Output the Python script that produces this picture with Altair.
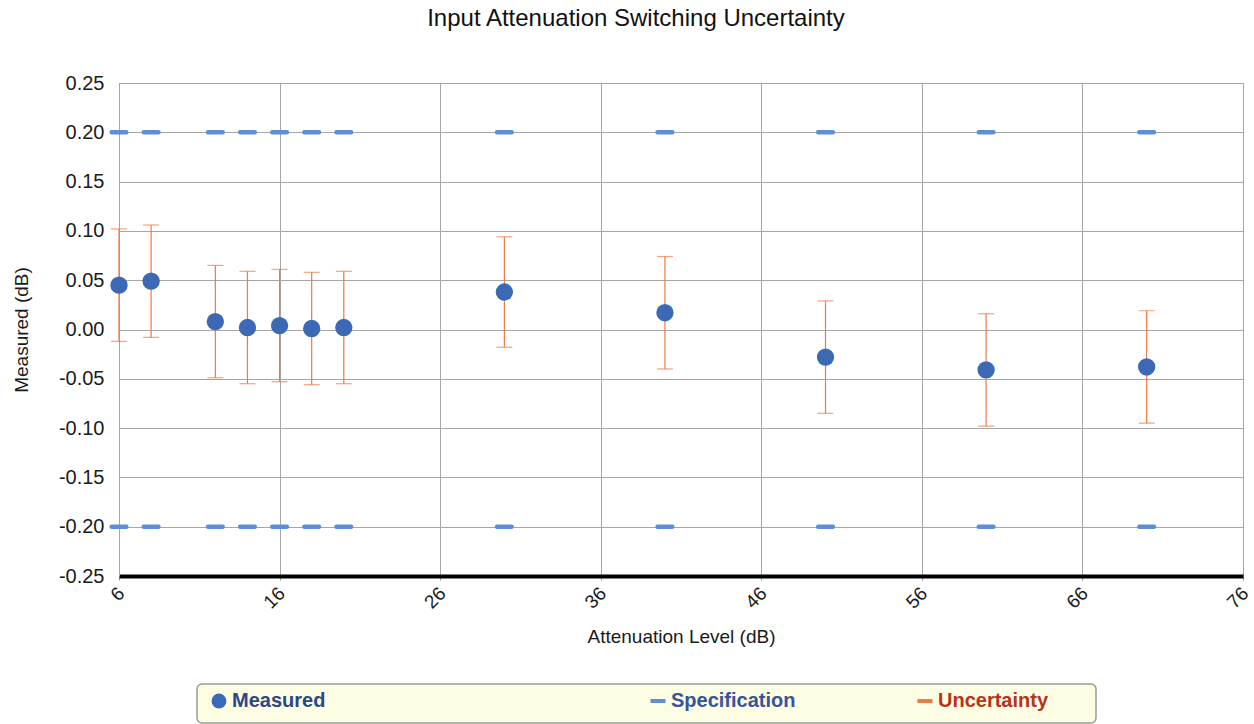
import altair as alt
import pandas as pd

# Attenuation steps (dB) and measured switching error (dB)
attenuation = [6, 8, 12, 14, 16, 18, 20, 30, 40, 50, 60, 70]
measured = [0.045, 0.049, 0.008, 0.002, 0.004, 0.001, 0.002, 0.038, 0.017, -0.028, -0.041, -0.038]
uncertainty = [0.057, 0.057, 0.057, 0.057, 0.057, 0.057, 0.057, 0.056, 0.057, 0.057, 0.057, 0.057]
spec_limit = 0.20

x_ticks = [6, 16, 26, 36, 46, 56, 66, 76]
y_ticks = [-0.25, -0.20, -0.15, -0.10, -0.05, 0.00, 0.05, 0.10, 0.15, 0.20, 0.25]

BLUE = "#3b69b5"
SPEC_BLUE = "#5d8fd9"
ORANGE = "#ec7a45"
FONT = "Liberation Sans"

df = pd.DataFrame({
    "att": attenuation,
    "meas": measured,
    "lo": [m - u for m, u in zip(measured, uncertainty)],
    "hi": [m + u for m, u in zip(measured, uncertainty)],
    "s_meas": "Measured",
    "s_spec": "Specification",
    "s_unc": "Uncertainty",
})
spec_df = pd.DataFrame({
    "att": attenuation * 2,
    "limit": [spec_limit] * len(attenuation) + [-spec_limit] * len(attenuation),
    "s_spec": "Specification",
})

x_enc = alt.X(
    "att:Q",
    scale=alt.Scale(domain=[6, 76], nice=False, zero=False),
    axis=alt.Axis(
        title="Attenuation Level (dB)", values=x_ticks, format="d",
        labelAngle=315, labelAlign="right", labelBaseline="middle",
        labelPadding=10, labelOffset=2, labelFontSize=19, titleFontSize=19,
        titlePadding=15, domainColor="black", domainWidth=4,
        tickColor="#999999", tickSize=4, gridColor="#a6a6a6",
        titleFontWeight="normal",
    ),
)
y_scale = alt.Scale(domain=[-0.25, 0.25], nice=False, zero=False)
y_axis = alt.Axis(
    title="Measured (dB)", values=y_ticks,
    labelExpr="replace(format(datum.value, '.2f'), '\u2212', '-')",
    labelFontSize=20, labelPadding=15, ticks=False, titleFontSize=19,
    titlePadding=27, domainColor="#a6a6a6", gridColor="#a6a6a6",
    titleFontWeight="normal",
)

base = alt.Chart(df)

legend_bg = alt.Chart(pd.DataFrame({"k": [0]})).mark_rect(
    fill="#fdfde3", stroke="#9a9a9a", strokeWidth=1.5, cornerRadius=5
).encode(
    x=alt.value(78), x2=alt.value(977), y=alt.value(601), y2=alt.value(640)
)

def legend(label_color, x, symbol, stroke=None):
    kw = dict(
        title=None, orient="none", legendX=x, legendY=608, padding=0,
        symbolType=symbol, labelFont=FONT, labelFontSize=20,
        labelFontWeight="bold", labelColor=label_color, labelOffset=3,
    )
    if stroke:
        kw.update(symbolStrokeColor=stroke, symbolStrokeWidth=4, symbolSize=225)
    else:
        kw.update(symbolSize=220, symbolOpacity=1)
    return alt.Legend(**kw)

err_rule = base.mark_rule(strokeWidth=1.2).encode(
    x=x_enc,
    y=alt.Y("lo:Q", scale=y_scale, axis=y_axis),
    y2="hi:Q",
    color=alt.Color("s_unc:N", scale=alt.Scale(domain=["Uncertainty"], range=[ORANGE]),
                    legend=legend("#b8331a", 796, "stroke", ORANGE)),
)
cap_lo = base.mark_tick(orient="horizontal", size=16, thickness=1.2, color=ORANGE).encode(
    x="att:Q", y="lo:Q")
cap_hi = base.mark_tick(orient="horizontal", size=16, thickness=1.2, color=ORANGE).encode(
    x="att:Q", y="hi:Q")

spec = alt.Chart(spec_df).mark_tick(orient="horizontal", size=19, thickness=4.5,
                                    cornerRadius=2, opacity=1).encode(
    x="att:Q",
    y="limit:Q",
    color=alt.Color("s_spec:N", scale=alt.Scale(domain=["Specification"], range=[SPEC_BLUE]),
                    legend=legend("#36559a", 529, "stroke", SPEC_BLUE)),
)

points = base.mark_circle(size=300, opacity=1).encode(
    x="att:Q",
    y="meas:Q",
    color=alt.Color("s_meas:N", scale=alt.Scale(domain=["Measured"], range=[BLUE]),
                    legend=legend("#2c4785", 90, "circle")),
)

chart = alt.layer(legend_bg, err_rule, cap_lo, cap_hi, spec, points).resolve_scale(
    color="independent"
).resolve_legend(color="independent").properties(
    width=1124,
    height=493,
    autosize=alt.AutoSizeParams(type="none"),
    padding={"left": 119, "top": 83, "right": 11, "bottom": 148},
    title=alt.TitleParams(
        "Input Attenuation Switching Uncertainty", fontSize=24, font=FONT,
        fontWeight="normal", color="#111111", offset=42, dx=-45,
    ),
).configure(
    font=FONT,
    background="white",
).configure_view(
    stroke="#a6a6a6", strokeWidth=1,
).configure_axis(
    labelFont=FONT, titleFont=FONT, labelColor="#1a1a1a", titleColor="#1a1a1a",
    gridWidth=1,
)

chart.save("out.html", embed_options={"renderer": "svg", "actions": False})
